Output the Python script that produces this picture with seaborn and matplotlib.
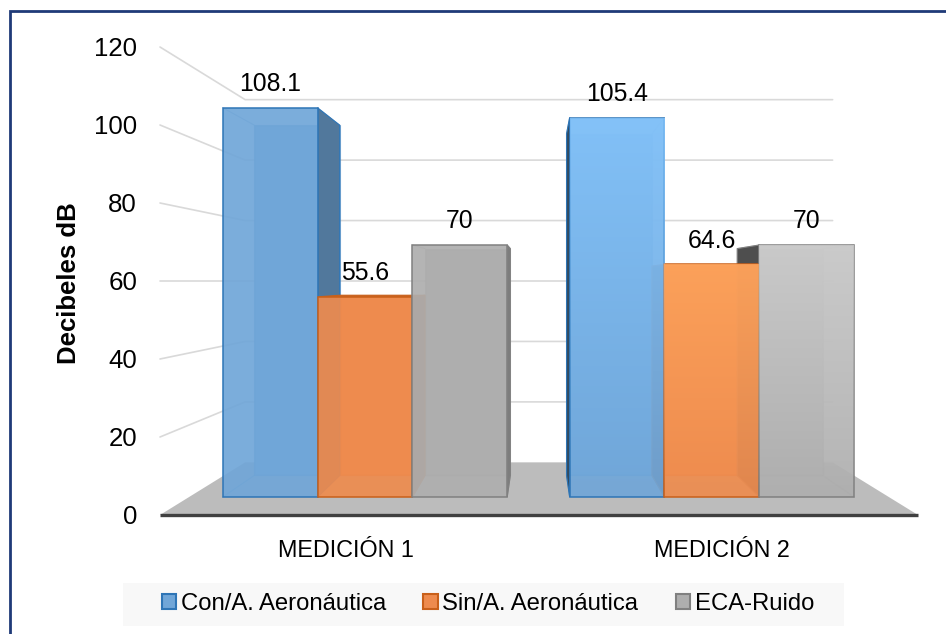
import numpy as np
import pandas as pd
import matplotlib
matplotlib.use("Agg")
import matplotlib.pyplot as plt
import seaborn as sns
from matplotlib.patches import Polygon, Rectangle, Patch
from matplotlib.colors import to_rgb

# ---- data -------------------------------------------------------------
categorias = ["MEDICIÓN 1", "MEDICIÓN 2"]
series = ["Con/A. Aeronáutica", "Sin/A. Aeronáutica", "ECA-Ruido"]
con_aeronautica = [108.1, 105.4]
sin_aeronautica = [55.6, 64.6]
eca_ruido = [70, 70]
y_ticks = [0, 20, 40, 60, 80, 100, 120]
y_label = "Decibeles dB"

# ---- style ------------------------------------------------------------
colores = ["#70A6D8", "#EE8B4E", "#AEAEAE"]
bordes = ["#2E75B6", "#C9601A", "#808080"]

df = pd.DataFrame({
    "Medición": categorias * len(series),
    "Serie": [s for s in series for _ in categorias],
    "dB": con_aeronautica + sin_aeronautica + eca_ruido,
})

sns.set_theme(style="white")
plt.rcParams["font.family"] = ["Liberation Sans", "DejaVu Sans"]
for key in ("text.color", "axes.labelcolor", "xtick.color", "ytick.color"):
    plt.rcParams[key] = "black"

W, H = 946, 634
fig = plt.figure(figsize=(W / 100, H / 100), dpi=100, facecolor="white")

# front plane of the 3-D box, in pixels (left, top, right, bottom)
BOX = (160, 47, 918, 515)
XLIM = (-0.507, 1.510)
YLIM = (0, 120)
VP = np.array([0.5, 60.0])   # vanishing point, front-plane data units
S_BAR = 0.923                # perspective scale of the bar front faces
DEPTH = 0.9                  # bar back face relative to its front face
S_WALL = 0.775               # perspective scale of the back wall
LABEL_NUDGE = -0.013         # category labels sit slightly left of centre

rect = [BOX[0] / W, 1 - BOX[3] / H, (BOX[2] - BOX[0]) / W, (BOX[3] - BOX[1]) / H]

# axes carrying the value and category labels (front plane)
ax_f = fig.add_axes(rect)
ax_f.set_facecolor("none")
ax_f.set_xlim(XLIM)
ax_f.set_ylim(YLIM)
for sp in ax_f.spines.values():
    sp.set_visible(False)
ax_f.grid(False)
ax_f.set_yticks(y_ticks, [str(t) for t in y_ticks])
ax_f.set_xticks([i + LABEL_NUDGE for i in range(len(categorias))], categorias)
ax_f.tick_params(axis="y", length=0, pad=16.5, labelsize=18.6)
ax_f.tick_params(axis="x", length=0, pad=17, labelsize=16.8)
ax_f.set_ylabel(y_label, fontsize=18.5, fontweight="bold")
ax_f.yaxis.set_label_coords((81 - BOX[0]) / (BOX[2] - BOX[0]),
                            (BOX[3] - 283) / (BOX[3] - BOX[1]))

# axes holding the bars (bar front plane)
ax = fig.add_axes(rect)
ax.set_facecolor("none")
sns.barplot(data=df, x="Medición", y="dB", hue="Serie", order=categorias,
            hue_order=series, palette=colores, saturation=1, width=0.82,
            gap=0, errorbar=None, legend=False, ax=ax, zorder=3)


def bar_limits(lim, c):
    return (c + (lim[0] - c) / S_BAR, c + (lim[1] - c) / S_BAR)


def proj(pts, s):
    """Map points of a plane with perspective scale s into bar-axes data."""
    pts = np.asarray(pts, float)
    return VP + (s / S_BAR) * (pts - VP)


xl, xr = XLIM

# floor and back-wall gridlines
floor = np.array([proj((xl, 0), 1), proj((xr, 0), 1),
                  proj((xr, 0), S_WALL), proj((xl, 0), S_WALL)])
ax.add_patch(Polygon(floor, closed=True, facecolor="#BCBCBC",
                     edgecolor="none", zorder=0.5, clip_on=False))
front = np.array([proj((xl, 0), 1), proj((xr, 0), 1)])
ax.plot(front[:, 0], front[:, 1], color="#404040", lw=2.4,
        solid_capstyle="butt", zorder=0.6, clip_on=False)
for t in y_ticks[1:]:
    g = np.array([proj((xl, t), 1), proj((xl, t), S_WALL), proj((xr, t), S_WALL)])
    ax.plot(g[:, 0], g[:, 1], color="#D9D9D9", lw=1.2, zorder=0.4, clip_on=False)

# give every bar its depth: back face, edges, visible side and top faces
for k, cont in enumerate(ax.containers):
    base = np.array(to_rgb(colores[k]))
    edge = to_rgb(bordes[k])
    for j, bar in enumerate(cont):
        x0, w, h = bar.get_x(), bar.get_width(), bar.get_height()
        x1 = x0 + w
        f = np.array([(x0, 0), (x1, 0), (x1, h), (x0, h)])
        b = proj(f, S_BAR * DEPTH)
        ax.add_patch(Polygon(b, closed=True, facecolor=base,
                             edgecolor=(*edge, 0.45), lw=0.8, zorder=1,
                             clip_on=False))
        for i in range(4):
            ax.plot([f[i, 0], b[i, 0]], [f[i, 1], b[i, 1]], color=edge,
                    alpha=0.45, lw=0.8, zorder=1.2, clip_on=False)
        if x1 < VP[0]:
            side = [f[1], f[2], b[2], b[1]]
            ax.add_patch(Polygon(side, facecolor=base * 0.72, edgecolor=edge,
                                 lw=0.8, zorder=1.5, clip_on=False))
        elif x0 > VP[0]:
            side = [f[0], f[3], b[3], b[0]]
            ax.add_patch(Polygon(side, facecolor=base * 0.45, edgecolor=edge,
                                 lw=0.8, zorder=1.5, clip_on=False))
        if h < VP[1]:
            top = [f[3], f[2], b[2], b[3]]
            ax.add_patch(Polygon(top, facecolor=base * 0.85, edgecolor=edge,
                                 lw=0.8, zorder=1.6, clip_on=False))
        bar.set_facecolor((*base, 0.92))
        bar.set_edgecolor(edge)
        bar.set_linewidth(1.1)
        if j == 1:
            # brighter tint fading downwards on the second measurement
            tint = np.clip(base * 1.2, 0, 1)
            sheen = np.empty((64, 1, 4))
            sheen[..., :3] = tint
            sheen[..., 3] = np.linspace(0.8, 0.0, 64)[:, None]
            im = ax.imshow(sheen, extent=(x0, x1, 0, h), origin="upper",
                           aspect="auto", zorder=3.1, interpolation="bilinear")
            im.set_clip_path(bar)
        ax.annotate(f"{h:g}", (x0 + w / 2, h), xytext=(0, 17),
                    textcoords="offset points", ha="center", va="center",
                    fontsize=17.8, color="black", zorder=6)

ax.set_xlim(bar_limits(XLIM, VP[0]))
ax.set_ylim(bar_limits(YLIM, VP[1]))
ax.set_axis_off()

# legend with its light band
fig.add_artist(Rectangle((123 / W, 1 - 626 / H), 721 / W, 43 / H,
                         transform=fig.transFigure, facecolor="#F8F8F8",
                         edgecolor="none", zorder=0))
handles = [Patch(facecolor=colores[k], edgecolor=bordes[k], linewidth=1.5)
           for k in range(len(series))]
fig.legend(handles, series, loc="center", bbox_to_anchor=(488 / W, 1 - 604 / H),
           ncol=3, frameon=False, fontsize=17.2, handlelength=0.6,
           handleheight=0.6, handletextpad=0.2, columnspacing=1.55)

# outer frame
fig.add_artist(Rectangle((9.5 / W, -0.1), 1.2, 1.1 - 11.2 / H,
                         transform=fig.transFigure, fill=False,
                         edgecolor="#1F3A78", lw=2.0, zorder=10))

fig.savefig("out.png", dpi=100)
